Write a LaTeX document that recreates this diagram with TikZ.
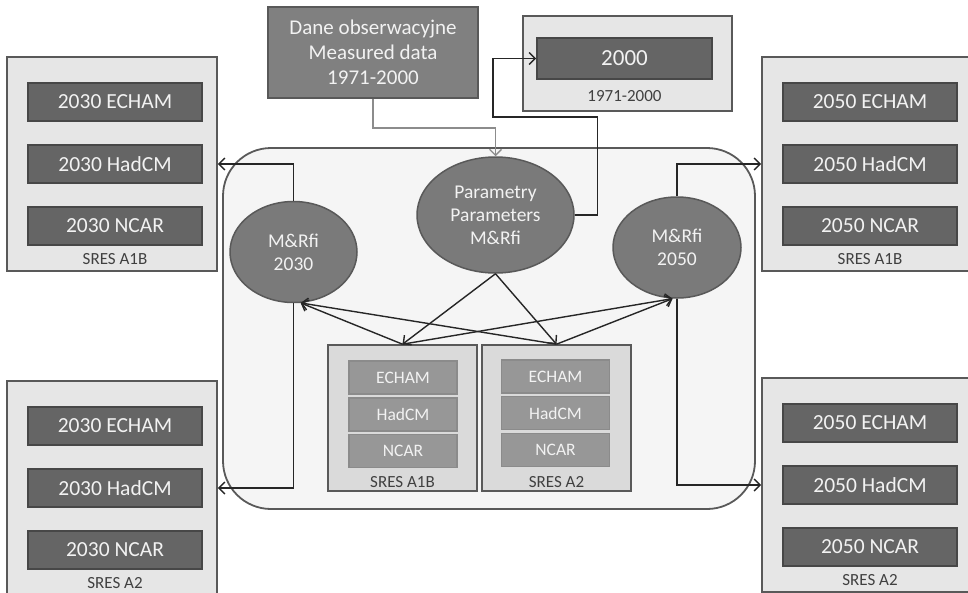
\documentclass[tikz,border=0pt]{standalone}
\usepackage{fontspec}
\setmainfont{Carlito}
\usetikzlibrary{arrows.meta,shapes.geometric}

\definecolor{edgegray}{HTML}{595959}
\definecolor{darkfill}{HTML}{656565}
\definecolor{midfill}{HTML}{7A7A7A}
\definecolor{lightfill}{HTML}{E6E6E6}
\definecolor{paleback}{HTML}{F5F5F5}
\definecolor{modelfill}{HTML}{979797}
\definecolor{labeltext}{HTML}{404040}
\definecolor{linkgray}{HTML}{8C8C8C}

\tikzset{
  grpbox/.style={draw=edgegray, fill=lightfill, line width=1.8pt,
    minimum width=210pt, minimum height=214pt},
  yearbox/.style={draw=edgegray!80!black, fill=darkfill, line width=1.6pt,
    minimum width=174pt, minimum height=38pt, text=white!95!black,
    font=\fontsize{21.5}{25}\selectfont},
  grplabel/.style={text=labeltext, font=\fontsize{17}{20}\selectfont},
  scenbox/.style={draw=edgegray, fill=lightfill!95!black, line width=1.6pt,
    minimum width=149pt, minimum height=146pt},
  modelbox/.style={draw=edgegray!70, fill=modelfill, line width=1.6pt,
    minimum width=108pt, minimum height=33pt, text=white!95!black,
    font=\fontsize{17.5}{20}\selectfont},
  blob/.style={ellipse, draw=edgegray, fill=midfill, line width=1.5pt,
    text=white!95!black, align=center, inner sep=0pt,
    font=\fontsize{19.5}{23}\selectfont},
  conn/.style={-{Straight Barb[length=6pt,width=12pt]}, line width=1.4pt,
    draw=black!85},
}

\begin{document}
\begin{tikzpicture}[x=1pt,y=-1pt]
    \useasboundingbox (0,0) rectangle (968,592);

    % main frame
    \node[draw=edgegray, fill=paleback, line width=1.8pt, rounded corners=48pt,
      minimum width=532pt, minimum height=361pt] (frame) at (489,328.5) {};

    % scenario groups on both sides
    \foreach \gx/\gy/\yr/\sc/\nm in {112/164/2030/A1B/la, 112/488/2030/A2/lb,
                                     867/164/2050/A1B/ra, 867/485/2050/A2/rb}{
      \node[grpbox] (\nm) at (\gx,\gy) {};
      \node[yearbox] (\nm-echam) at (\gx+3,\gy-62) {\yr\ ECHAM};
      \node[yearbox] (\nm-hadcm) at (\gx+3,\gy) {\yr\ HadCM};
      \node[yearbox] (\nm-ncar) at (\gx+3,\gy+62) {\yr\ NCAR};
      \node[grplabel] (\nm-lab) at (\gx+3,\gy+95) {SRES \sc};
    }

    % observed data and reference period
    \node[draw=edgegray, fill=midfill!105!black, line width=1.6pt, minimum width=210pt,
      minimum height=91pt, text=white!95!black, align=center,
      font=\fontsize{21}{25}\selectfont] (dane) at (373,52.5)
      {Dane obserwacyjne\\Measured data\\1971-2000};
    \node[draw=edgegray, fill=lightfill, line width=1.8pt, minimum width=209pt,
      minimum height=95pt] (ref) at (627.5,63.5) {};
    \node[yearbox, minimum width=175pt, minimum height=41pt,
      font=\fontsize{23}{27}\selectfont] (y2000) at (624.5,58.5) {2000};
    \node[grplabel] (reflab) at (624.5,96) {1971-2000};

    % ellipses
    \node[blob, minimum width=127pt, minimum height=101pt] (m2030) at (293.5,252)
      {M\&Rfi\\2030};
    \node[blob, minimum width=157pt, minimum height=116pt] (par) at (495.5,215)
      {Parametry\\Parameters\\M\&Rfi};
    \node[blob, minimum width=128pt, minimum height=101pt] (m2050) at (677,247.5)
      {M\&Rfi\\2050};

    % scenario boxes in the middle
    \node[scenbox] (s1) at (402.5,418) {};
    \node[modelbox] (s1-echam) at (403,377.5) {ECHAM};
    \node[modelbox] (s1-hadcm) at (403,414.5) {HadCM};
    \node[modelbox] (s1-ncar) at (403,451) {NCAR};
    \node[grplabel] (s1-lab) at (402.5,482) {SRES A1B};
    \node[scenbox] (s2) at (556.5,418) {};
    \node[modelbox] (s2-echam) at (555.5,376.5) {ECHAM};
    \node[modelbox] (s2-hadcm) at (555.5,413) {HadCM};
    \node[modelbox] (s2-ncar) at (555.5,450) {NCAR};
    \node[grplabel] (s2-lab) at (556.5,482) {SRES A2};

    % connectors
    \coordinate (bend) at (493,117);
    \draw[conn, draw=linkgray] (dane.south) -- ++(0,29) -| (par.north);
    \draw[conn] (par.east) -- ++(23,0) |- (bend) |- (y2000.west);
    \draw[conn] (m2030.north) |- (la.east);
    \draw[conn] (m2030.south) |- (lb.east);
    \draw[conn] (m2050.north) |- (ra.west);
    \draw[conn] (m2050.south) |- (rb.west);
    \draw[conn] (par.south) -- (s1.north);
    \draw[conn] (par.south) -- (s2.north);
    \draw[conn] (s1.north) -- (m2030.-82);
    \draw[conn] (s2.north) -- (m2030.-82);
    \draw[conn] (s1.north) -- (m2050.-95);
    \draw[conn] (s2.north) -- (m2050.-95);
\end{tikzpicture}
\end{document}
